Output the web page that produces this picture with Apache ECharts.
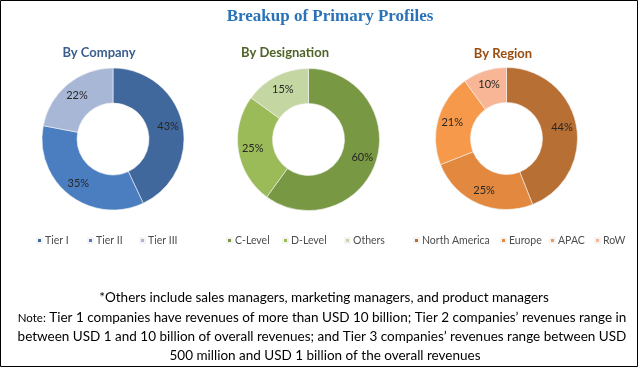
<!DOCTYPE html>
<html>
<head>
<meta charset="utf-8">
<script src="https://cdn.jsdelivr.net/npm/echarts@6/dist/echarts.min.js"></script>
<style>
html,body{margin:0;padding:0;background:#fff;}
#c{width:638px;height:367px;}
</style>
</head>
<body>
<div id="c"></div>
<script>
// ---- data ----
var companyNames = ['Tier I', 'Tier II', 'Tier III'];
var companyValues = [43, 35, 22];
var designationNames = ['C-Level', 'D-Level', 'Others'];
var designationValues = [60, 25, 15];
var regionNames = ['North America', 'Europe', 'APAC', 'RoW'];
var regionValues = [44, 25, 21, 10];

var chartTitle = 'Breakup of Primary Profiles';
var subTitles = ['By Company', 'By Designation', 'By Region'];
var footnote1 = '*Others include sales managers, marketing managers, and product managers';
var footnote2a = 'Note:';
var footnote2b = ' Tier 1 companies have revenues of more than USD 10 billion; Tier 2 companies\u2019 revenues range in';
var footnote3 = 'between USD 1 and 10 billion of overall revenues; and Tier 3 companies\u2019 revenues range between USD';
var footnote4 = '500 million and USD 1 billion of the overall revenues';

// ---- styles / layout ----
var companyColors = ['#41689c', '#4a7ec0', '#a8b7d6'];
var designationColors = ['#789843', '#9bbb59', '#c4d6a2'];
var regionColors = ['#b86f33', '#e2893f', '#f6994a', '#f8b697'];
var legendX = {
  'Tier I': 36, 'Tier II': 87, 'Tier III': 139,
  'C-Level': 226, 'D-Level': 282, 'Others': 344,
  'North America': 413, 'Europe': 500, 'APAC': 549, 'RoW': 594
};
var textFont = 'Lato, "Open Sans", sans-serif';

function makeData(names, values, colors) {
  return names.map(function (n, i) {
    return { name: n, value: values[i], itemStyle: { color: colors[i] } };
  });
}

function pie(name, center, names, values, colors) {
  return {
    type: 'pie',
    name: name,
    center: center,
    radius: [36, 71],
    startAngle: 90,
    clockwise: true,
    avoidLabelOverlap: false,
    animation: false,
    itemStyle: { borderColor: '#f4f4f4', borderWidth: 0.6 },
    label: {
      show: true,
      position: 'inside',
      formatter: '{c}%',
      color: '#262626',
      fontFamily: textFont,
      fontSize: 11
    },
    labelLine: { show: false },
    emphasis: { disabled: true },
    data: makeData(names, values, colors)
  };
}

var allNames = companyNames.concat(designationNames, regionNames);
var legends = allNames.map(function (n) {
  return {
    data: [n],
    left: legendX[n],
    top: 235,
    icon: 'rect',
    itemWidth: 5,
    itemHeight: 5,
    itemGap: 0,
    padding: 0,
    selectedMode: false,
    textStyle: { color: '#4d4d4d', fontSize: 10.5, fontFamily: textFont, padding: [0, 0, 0, -2] }
  };
});

var chart = echarts.init(document.getElementById('c'), null, { renderer: 'canvas' });
chart.setOption({
  backgroundColor: '#fff',
  animation: false,
  title: [
    { text: chartTitle, left: 325, top: 3, textAlign: 'center',
      textStyle: { fontFamily: '"Liberation Serif", serif', fontWeight: 'bold', fontSize: 17, color: '#2a72b8' } },
    { text: subTitles[0], left: 94, top: 41, textAlign: 'center',
      textStyle: { fontFamily: textFont, fontWeight: 'bold', fontSize: 13, color: '#3a5d8e' } },
    { text: subTitles[1], left: 280, top: 41, textAlign: 'center',
      textStyle: { fontFamily: textFont, fontWeight: 'bold', fontSize: 13, color: '#4f6228' } },
    { text: subTitles[2], left: 498, top: 42, textAlign: 'center',
      textStyle: { fontFamily: textFont, fontWeight: 'bold', fontSize: 13, color: '#974c10' } }
  ],
  legend: legends,
  series: [
    pie('By Company', [113, 139], companyNames, companyValues, companyColors),
    pie('By Designation', [308.5, 139.5], designationNames, designationValues, designationColors),
    pie('By Region', [506.5, 138.5], regionNames, regionValues, regionColors)
  ],
  graphic: [
    { type: 'rect', shape: { x: 0.5, y: 0.5, width: 637, height: 366 }, style: { fill: null, stroke: '#000', lineWidth: 1 }, silent: true },
    { type: 'text', x: 324, y: 298, style: { text: footnote1, textAlign: 'center', textVerticalAlign: 'middle', font: '13.5px ' + textFont, fill: '#000' } },
    { type: 'text', x: 322, y: 318, style: {
        text: '{s|' + footnote2a + '}{n|' + footnote2b + '}', textAlign: 'center', textVerticalAlign: 'middle',
        rich: { s: { fontSize: 11.5, fontFamily: textFont, fill: '#000' }, n: { fontSize: 13.5, fontFamily: textFont, fill: '#000' } } } },
    { type: 'text', x: 322, y: 337, style: { text: footnote3, textAlign: 'center', textVerticalAlign: 'middle', font: '13.5px ' + textFont, fill: '#000' } },
    { type: 'text', x: 325, y: 356, style: { text: footnote4, textAlign: 'center', textVerticalAlign: 'middle', font: '13.5px ' + textFont, fill: '#000' } }
  ]
});
</script>
</body>
</html>
